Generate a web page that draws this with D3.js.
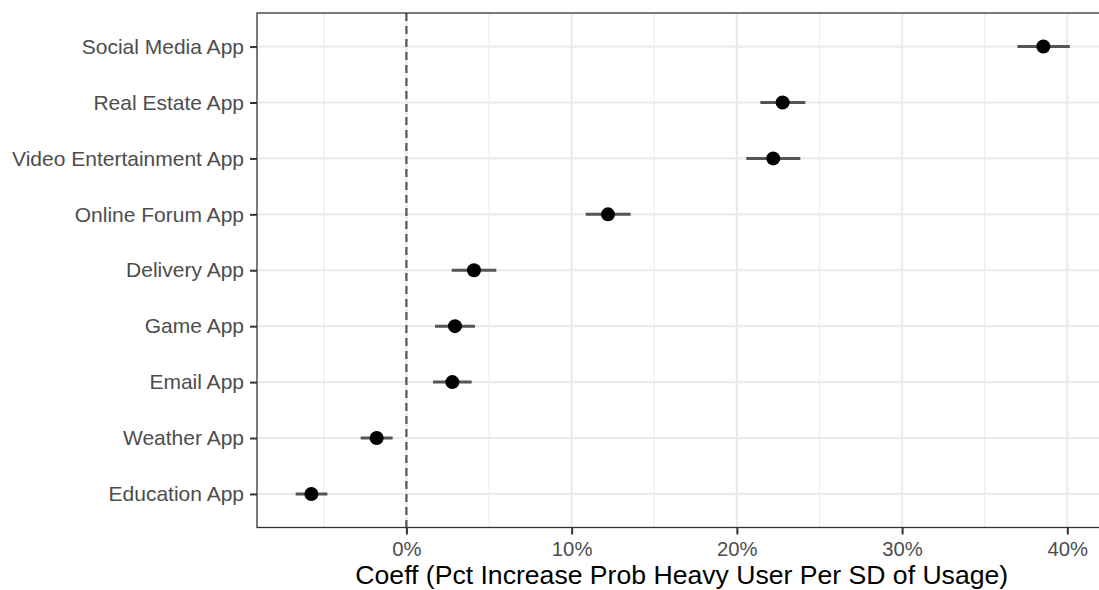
<!DOCTYPE html>
<html>
<head>
<meta charset="utf-8">
<script src="https://cdn.jsdelivr.net/npm/d3@7"></script>
<style>
  html, body { margin: 0; padding: 0; background: #ffffff; }
  svg { display: block; font-family: "Liberation Sans", Arial, Helvetica, sans-serif; }
</style>
</head>
<body>
<svg id="chart" width="1099" height="590"></svg>
<script>
// App categories, top to bottom
const apps = [
  "Social Media App", "Real Estate App", "Video Entertainment App",
  "Online Forum App", "Delivery App", "Game App", "Email App",
  "Weather App", "Education App"
];
// Point estimates (percent)
const coeff = [38.55, 22.77, 22.2, 12.2, 4.09, 2.94, 2.78, -1.8, -5.75];
// Confidence interval bounds (percent)
const ciLow  = [36.98, 21.42, 20.57, 10.85, 2.74, 1.73, 1.61, -2.77, -6.7];
const ciHigh = [40.15, 24.14, 23.84, 13.57, 5.44, 4.15, 3.95, -0.83, -4.78];
// X axis breaks
const xBreaks = [0, 10, 20, 30, 40];
const xMinor = [-5, 5, 15, 25, 35];
const axisTitle = "Coeff (Pct Increase Prob Heavy User Per SD of Usage)";

const rows = apps.map((a, i) => ({ app: a, est: coeff[i], lo: ciLow[i], hi: ciHigh[i] }));

const svg = d3.select("#chart");
const panel = { left: 257, top: 13, right: 1108.5, bottom: 527.5 };

// 5% expansion on the continuous x scale
const lo = d3.min(ciLow), hi = d3.max(ciHigh);
const pad = (hi - lo) * 0.05;
const x = d3.scaleLinear().domain([lo - pad, hi + pad]).range([panel.left, panel.right]);
// discrete y with 0.6 unit expansion each side
const y = d3.scalePoint().domain(apps).range([panel.top, panel.bottom]).padding(0.6);

const g = svg.append("g");

// minor grid
g.selectAll("line.minor").data(xMinor).join("line")
  .attr("x1", d => x(d)).attr("x2", d => x(d))
  .attr("y1", panel.top).attr("y2", panel.bottom)
  .attr("stroke", "#ebebeb").attr("stroke-width", 1.1);
// major grid x
g.selectAll("line.majx").data(xBreaks).join("line")
  .attr("x1", d => x(d)).attr("x2", d => x(d))
  .attr("y1", panel.top).attr("y2", panel.bottom)
  .attr("stroke", "#ebebeb").attr("stroke-width", 2.2);
// major grid y
g.selectAll("line.majy").data(apps).join("line")
  .attr("x1", panel.left).attr("x2", panel.right)
  .attr("y1", d => y(d)).attr("y2", d => y(d))
  .attr("stroke", "#ebebeb").attr("stroke-width", 2.2);

// zero reference
g.append("line")
  .attr("x1", x(0)).attr("x2", x(0))
  .attr("y1", panel.top).attr("y2", panel.bottom)
  .attr("stroke", "#5c5c5c").attr("stroke-width", 2.3)
  .attr("stroke-dasharray", "8,5");

// intervals
g.selectAll("line.ci").data(rows).join("line")
  .attr("x1", d => x(d.lo)).attr("x2", d => x(d.hi))
  .attr("y1", d => y(d.app)).attr("y2", d => y(d.app))
  .attr("stroke", "#555555").attr("stroke-width", 3);

// estimates
g.selectAll("circle").data(rows).join("circle")
  .attr("cx", d => x(d.est)).attr("cy", d => y(d.app))
  .attr("r", 7).attr("fill", "#000000");

// panel border
g.append("rect")
  .attr("x", panel.left).attr("y", panel.top)
  .attr("width", panel.right - panel.left).attr("height", panel.bottom - panel.top)
  .attr("fill", "none").attr("stroke", "#333333").attr("stroke-width", 1.3);

// x axis
const xAxis = d3.axisBottom(x).tickValues(xBreaks).tickFormat(d => d + "%")
  .tickSizeInner(7).tickSizeOuter(0).tickPadding(7);
const gx = svg.append("g").attr("transform", `translate(0,${panel.bottom})`).call(xAxis);
gx.select(".domain").remove();
gx.selectAll(".tick line").attr("stroke", "#333333").attr("stroke-width", 2);
gx.selectAll(".tick text").attr("fill", "#4d4d4d").attr("font-size", 20.3)
  .attr("font-family", "Liberation Sans, Arial, sans-serif");

// y axis
const yAxis = d3.axisLeft(y).tickSizeInner(7).tickSizeOuter(0).tickPadding(6);
const gy = svg.append("g").attr("transform", `translate(${panel.left},0)`).call(yAxis);
gy.select(".domain").remove();
gy.selectAll(".tick line").attr("stroke", "#333333").attr("stroke-width", 2);
gy.selectAll(".tick text").attr("fill", "#4d4d4d").attr("font-size", 21)
  .attr("font-family", "Liberation Sans, Arial, sans-serif");

// axis title
svg.append("text")
  .attr("x", (panel.left + panel.right) / 2 - 1)
  .attr("y", 584)
  .attr("text-anchor", "middle")
  .attr("font-size", 26.6)
  .attr("fill", "#000000")
  .text(axisTitle);
</script>
</body>
</html>
